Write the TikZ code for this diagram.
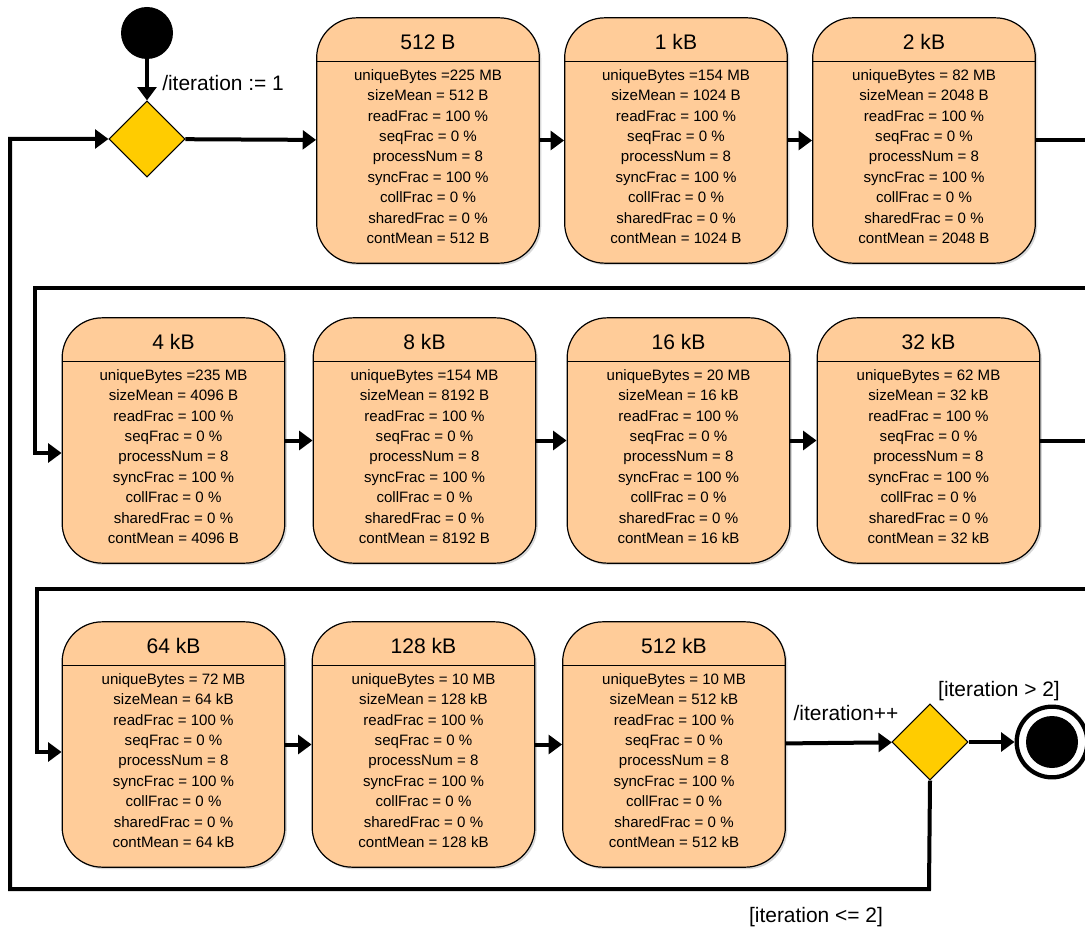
\documentclass[tikz,border=0pt]{standalone}
\usepackage{fontspec}
\setmainfont{Liberation Sans}
\usetikzlibrary{shapes.geometric,arrows.meta,shadows}

\definecolor{statefill}{HTML}{FFCC99}
\definecolor{choicefill}{HTML}{FFCC00}

\tikzset{
  statebox/.style={draw=black, line width=0.9pt, fill=statefill,
    rounded corners=30pt, minimum width=167pt, minimum height=184pt,
    inner sep=0pt,
    drop shadow={shadow xshift=1.5pt, shadow yshift=-1.5pt, opacity=0.3}},
  titletext/.style={font=\fontsize{15.8}{19}\selectfont, inner sep=0pt},
  bodytext/.style={font=\fontsize{11.3}{15.3}\selectfont, align=center, inner sep=0pt},
  labeltext/.style={font=\fontsize{15.7}{19}\selectfont, inner sep=0pt},
  choice/.style={diamond, aspect=1, draw=black, line width=0.8pt, fill=choicefill,
    minimum width=57pt, minimum height=57pt, inner sep=0pt},
  initial/.style={circle, fill=black, minimum size=39pt, inner sep=0pt},
  finalring/.style={circle, draw=black, line width=3.2pt, fill=white,
    minimum size=53pt, inner sep=0pt},
  finaldot/.style={circle, fill=black, minimum size=39pt, inner sep=0pt},
  flow/.style={line width=3pt, -{Triangle[length=10pt,width=14pt]}},
}

% one state: name, position, title, uniqueBytes value, size value
\newcommand\statebox[5]{%
  \node[statebox] (#1) at #2 {};
  \draw[line width=0.9pt] ([yshift=-33pt]#1.north west) -- ([yshift=-33pt]#1.north east);
  \node[titletext] (#1-t) at ([yshift=-18.75pt]#1.north) {#3};
  \node[bodytext] (#1-b) at ([yshift=-12pt]#1.center) {%
    uniqueBytes #4\\
    sizeMean = #5\\
    readFrac = 100 \%\\
    seqFrac = 0 \%\\
    processNum = 8\\
    syncFrac = 100 \%\\
    collFrac = 0 \%\\
    sharedFrac = 0 \%\\
    contMean = #5};
}

\begin{document}
\begin{tikzpicture}[x=0.75pt, y=-0.75pt]
  \clip (0,0) rectangle (1085,930);
  \fill[white] (0,0) rectangle (1085,930);

  % start, first decision
  \node[initial] (start) at (147,33) {};
  \node[choice] (d1) at (147,139) {};
  \node[labeltext, anchor=west] (initlabel) at (162,83) {/iteration := 1};

  % row 1
  \statebox{b1}{(428,140.5)}{512 B}{=225 MB}{512 B}
  \statebox{b2}{(676,140.5)}{1 kB}{=154 MB}{1024 B}
  \statebox{b3}{(924,140.5)}{2 kB}{= 82 MB}{2048 B}

  % row 2
  \statebox{b4}{(173.5,440.5)}{4 kB}{=235 MB}{4096 B}
  \statebox{b5}{(424.5,440.5)}{8 kB}{=154 MB}{8192 B}
  \statebox{b6}{(678.5,440.5)}{16 kB}{= 20 MB}{16 kB}
  \statebox{b7}{(928.5,440.5)}{32 kB}{= 62 MB}{32 kB}

  % row 3
  \statebox{b8}{(173.5,744.5)}{64 kB}{= 72 MB}{64 kB}
  \statebox{b9}{(423.5,744.5)}{128 kB}{= 10 MB}{128 kB}
  \statebox{b10}{(674,744.5)}{512 kB}{= 10 MB}{512 kB}

  % second decision and final state
  \node[choice] (d2) at (930,742) {};
  \node[finalring] (final) at (1052,742) {};
  \node[finaldot] (finaldot) at (final.center) {};
  \node[labeltext] (inclabel) at (846,713) {/iteration++};
  \node[labeltext] (donelabel) at (999,691) {[iteration > 2]};
  \node[labeltext] (againlabel) at (816,917) {[iteration <= 2]};

  % turning points of the row returns and of the loop
  \coordinate (r1a) at (1100,140.5);
  \coordinate (r1b) at (1100,288);
  \coordinate (r1c) at (35,288);
  \coordinate (r1d) at (35,453);
  \coordinate (r2a) at (1100,440.5);
  \coordinate (r2b) at (1100,589);
  \coordinate (r2c) at (37,589);
  \coordinate (r2d) at (37,752);
  \coordinate (lpa) at (929,889);
  \coordinate (lpb) at (10,889);
  \coordinate (lpc) at (10,139);

  % connectors
  \draw[flow] (start) -- (d1);
  \draw[flow] (d1) -- (b1);
  \draw[flow] (b1) -- (b2);
  \draw[flow] (b2) -- (b3);
  \draw[flow] (b3.east) -- (r1a) -- (r1b) -- (r1c) -- (r1d) -- (b4.west |- r1d);
  \draw[flow] (b4) -- (b5);
  \draw[flow] (b5) -- (b6);
  \draw[flow] (b6) -- (b7);
  \draw[flow] (b7.east) -- (r2a) -- (r2b) -- (r2c) -- (r2d) -- (b8.west |- r2d);
  \draw[flow] (b8) -- (b9);
  \draw[flow] (b9) -- (b10);
  \draw[flow] (b10) -- (d2);
  \draw[flow] (d2) -- (final);
  \draw[flow] (d2.south) -- (lpa) -- (lpb) -- (lpc) -- (d1.west);
\end{tikzpicture}
\end{document}
